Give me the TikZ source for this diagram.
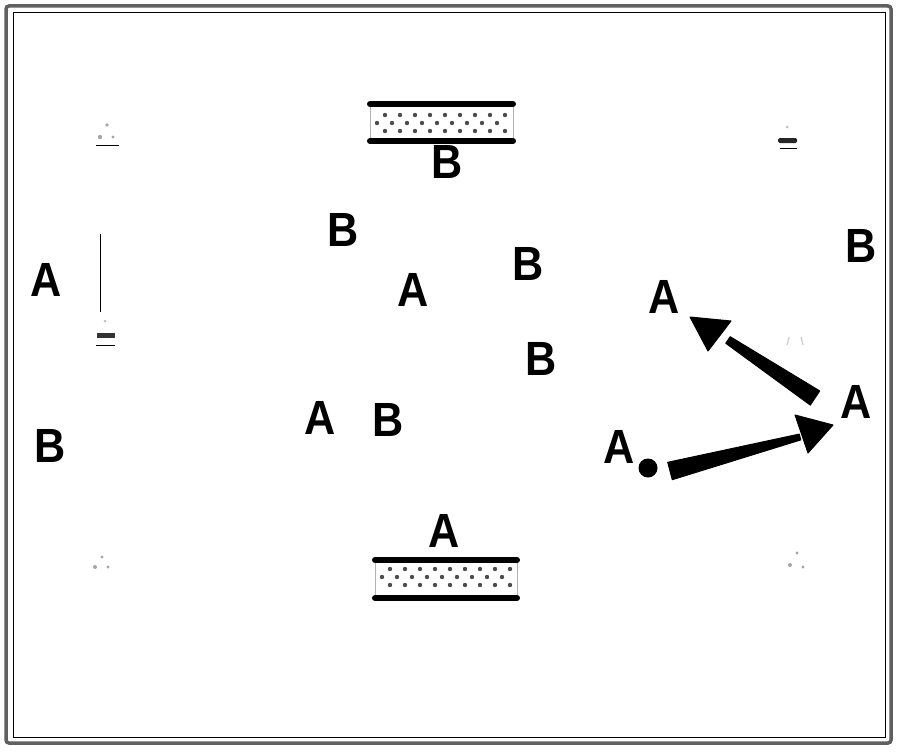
\documentclass[tikz,border=0pt]{standalone}
\usepackage{fontspec}
\setmainfont{Liberation Sans}
\newfontfamily\labfont[FakeStretch=0.9]{Liberation Sans}
\begin{document}
\begin{tikzpicture}[x=1pt,y=-1pt,
  lab/.style={font=\labfont\fontsize{48}{48}\selectfont\bfseries, inner sep=0pt, anchor=base},
  band/.style={line width=6pt, black, line cap=round},
  side/.style={line width=0.8pt, gray!60},
  bdot/.style={fill=gray!60!black},
  dotmark/.style={fill=gray!70, draw=none},
  faint/.style={line width=1pt, black},
  wedge/.style={fill=black, draw=black, line width=1pt, line join=round}]
\useasboundingbox (0,0) rectangle (900,752);
% frame
\draw[line width=3.5pt, gray!75!black, rounded corners=3pt] (6,6) rectangle (891,743);
\draw[line width=1pt, black] (13,13) rectangle (885,737);

% top band
\coordinate (tb1) at (370,104);
\coordinate (tb2) at (513,141);
\draw[side] (tb1) rectangle (tb2);
\foreach \r/\yy/\off in {0/115/15,1/123/7,2/131/15}{
  \foreach \k in {0,...,8}{
    \pgfmathsetmacro\xx{370+\off+15*\k}
    \ifdim \xx pt<508pt \fill[bdot] (\xx,\yy) circle (2.2); \fi
  }
}
\draw[band] (370,104) -- (513,104);
\draw[band] (370,141) -- (513,141);

% bottom band
\coordinate (bb1) at (375,560);
\coordinate (bb2) at (517,598);
\draw[side] (bb1) rectangle (bb2);
\foreach \r/\yy/\off in {0/569/15,1/577/7,2/585/15}{
  \foreach \k in {0,...,8}{
    \pgfmathsetmacro\xx{375+\off+15*\k}
    \ifdim \xx pt<512pt \fill[bdot] (\xx,\yy) circle (2.2); \fi
  }
}
\draw[band] (375,560) -- (517,560);
\draw[band] (375,598) -- (517,598);

% letters
\node[lab] (bTop) at (447,178) {B};
\node[lab] (aBot) at (444,547) {A};
\node[lab] (b1) at (343,246) {B};
\node[lab] (a1) at (413,306) {A};
\node[lab] (b2) at (528,280) {B};
\node[lab] (b3) at (541,375) {B};
\node[lab] (a2) at (320,434) {A};
\node[lab] (b4) at (388,436) {B};
\node[lab] (aL) at (46,296) {A};
\node[lab] (bL) at (50,462) {B};
\node[lab] (bR) at (861,262) {B};
\node[lab] (aS) at (664,313) {A};
\node[lab] (aR) at (856,418) {A};
\node[lab] (aC) at (619,463) {A};

% faint markers
\fill[dotmark] (100,137) circle (2.2) (113,137) circle (1.6) (107,125) circle (1.8);
\draw[faint] (96,145) -- (119,145);
\fill[gray!50] (105,321) circle (1.5);
\fill[black!80] (97,333) rectangle (115,338);
\draw[faint] (96,345) -- (115,345);
\draw[line width=1pt] (100.5,234) -- (100.5,312);
\fill[dotmark] (95,567) circle (2) (108,567) circle (1.6) (102,557) circle (1.6);
\fill[black!85, rounded corners=1.5pt] (778,138) rectangle (797,143);
\fill[gray!50] (787,127) circle (1.5);
\draw[faint] (780,148) -- (797,148);
\draw[gray!40, line width=1.2pt] (789,337) -- (787,345) (801,337) -- (803,345);
\fill[dotmark] (790,565) circle (2) (803,567) circle (1.6) (797,553) circle (1.6);

% arrows
\coordinate (s1a) at (819.7,390.9);
\coordinate (s1b) at (810.3,405.1);
\coordinate (s1c) at (725.8,343.3);
\coordinate (s1d) at (730.2,336.7);
\fill[wedge] (s1a) -- (s1b) -- (s1c) -- (s1d) -- cycle;
\coordinate (h1t) at (690,317);
\coordinate (h1a) at (731,321);
\coordinate (h1b) at (708,351);
\fill[wedge] (h1t) -- (h1a) -- (h1b) -- cycle;

\coordinate (s2a) at (667.7,462.3);
\coordinate (s2b) at (672.3,479.7);
\coordinate (s2c) at (800.8,439.9);
\coordinate (s2d) at (799.2,434.1);
\fill[wedge] (s2a) -- (s2b) -- (s2c) -- (s2d) -- cycle;
\coordinate (h2t) at (833,425);
\coordinate (h2a) at (795,415);
\coordinate (h2b) at (808,453);
\fill[wedge] (h2t) -- (h2a) -- (h2b) -- cycle;

\node[circle, fill=black, inner sep=0pt, minimum size=19pt] (dot) at (648,468) {};
\end{tikzpicture}
\end{document}
